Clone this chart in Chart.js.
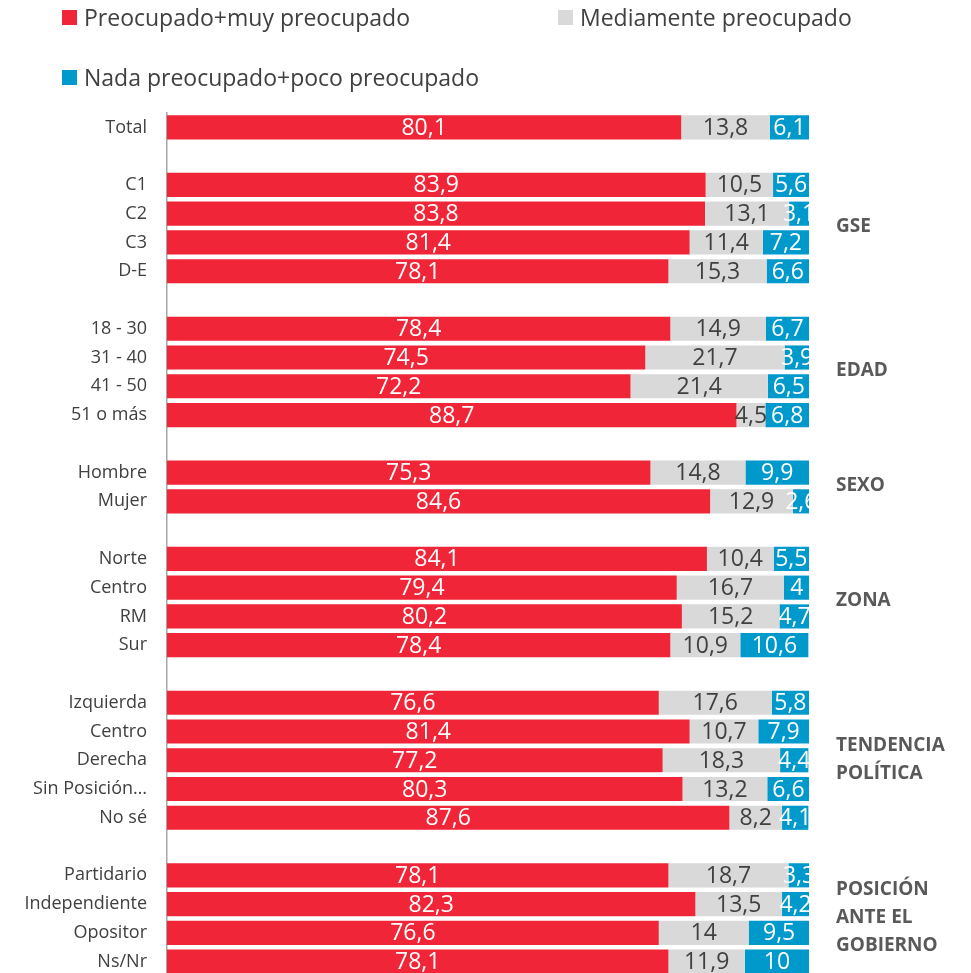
<!DOCTYPE html>
<html lang="es">
<head>
<meta charset="utf-8">
<title>Nivel de preocupación por segmento</title>
<script src="https://cdn.jsdelivr.net/npm/chart.js@4.4.1/dist/chart.umd.min.js"></script>
<style>
    html, body { margin: 0; padding: 0; background: #fff; overflow: hidden; }
    #wrap { position: relative; width: 971px; height: 973px; overflow: hidden; }
    #grafico { display: block; }
    #leyenda {
        position: absolute; left: 62px; top: 1px; width: 900px;
        display: flex; flex-wrap: wrap; row-gap: 28px;
        font-family: "Open Sans", sans-serif; font-size: 23px; color: #404040;
    }
    #leyenda .item { display: flex; align-items: center; height: 32px; }
    #leyenda .item:nth-child(1) { width: 496px; }
    #leyenda .caja { width: 15px; height: 15px; margin-right: 7px; }
</style>
</head>
<body>
<div id="wrap">
    <div id="leyenda"></div>
    <canvas id="grafico" width="971" height="976"></canvas>
</div>
<script>
// Categorías (filas vacías separan cada segmento)
const categorias = [
    'Total', '',
    'C1', 'C2', 'C3', 'D-E', '',
    '18 - 30', '31 - 40', '41 - 50', '51 o más', '',
    'Hombre', 'Mujer', '',
    'Norte', 'Centro', 'RM', 'Sur', '',
    'Izquierda', 'Centro', 'Derecha', 'Sin Posición…', 'No sé', '',
    'Partidario', 'Independiente', 'Opositor', 'Ns/Nr'
];

const preocupado = [
    80.1, null,
    83.9, 83.8, 81.4, 78.1, null,
    78.4, 74.5, 72.2, 88.7, null,
    75.3, 84.6, null,
    84.1, 79.4, 80.2, 78.4, null,
    76.6, 81.4, 77.2, 80.3, 87.6, null,
    78.1, 82.3, 76.6, 78.1
];

const mediamente = [
    13.8, null,
    10.5, 13.1, 11.4, 15.3, null,
    14.9, 21.7, 21.4, 4.5, null,
    14.8, 12.9, null,
    10.4, 16.7, 15.2, 10.9, null,
    17.6, 10.7, 18.3, 13.2, 8.2, null,
    18.7, 13.5, 14, 11.9
];

const nada = [
    6.1, null,
    5.6, 3.1, 7.2, 6.6, null,
    6.7, 3.9, 6.5, 6.8, null,
    9.9, 2.6, null,
    5.5, 4, 4.7, 10.6, null,
    5.8, 7.9, 4.4, 6.6, 4.1, null,
    3.3, 4.2, 9.5, 10
];

// Rótulos de cada bloque: [fila inicial, fila final, líneas]
const grupos = [
    [2, 5, ['GSE']],
    [7, 10, ['EDAD']],
    [12, 13, ['SEXO']],
    [15, 18, ['ZONA']],
    [20, 24, ['TENDENCIA', 'POLÍTICA']],
    [26, 29, ['POSICIÓN', 'ANTE EL', 'GOBIERNO']]
];

const ROJO = '#F02537';
const GRIS = '#D9D9D9';
const AZUL = '#0099CC';

const formatoNum = v => String(v).replace('.', ',');

// Etiquetas de valor centradas dentro de cada tramo
const etiquetasValor = {
    id: 'etiquetasValor',
    afterDatasetsDraw(chart) {
        const ctx = chart.ctx;
        const area = chart.chartArea;
        ctx.save();
        ctx.beginPath();
        ctx.rect(area.left, area.top, area.right - area.left, area.bottom - area.top);
        ctx.clip();
        ctx.font = '23px "Open Sans", sans-serif';
        ctx.textAlign = 'center';
        ctx.textBaseline = 'middle';
        chart.data.datasets.forEach((ds, i) => {
            const meta = chart.getDatasetMeta(i);
            ctx.fillStyle = ds.colorTexto;
            meta.data.forEach((barra, j) => {
                const v = ds.data[j];
                if (v === null || v === undefined) return;
                const c = barra.getCenterPoint();
                ctx.fillText(formatoNum(v), c.x, c.y + 1);
            });
        });
        ctx.restore();
    }
};

// Nombres de los bloques a la derecha del gráfico
const rotulosGrupo = {
    id: 'rotulosGrupo',
    afterDraw(chart) {
        const ctx = chart.ctx;
        const y = chart.scales.y;
        const x0 = chart.chartArea.right + 27;
        ctx.save();
        ctx.font = 'bold 19px "Open Sans", sans-serif';
        ctx.fillStyle = '#595959';
        ctx.textAlign = 'left';
        ctx.textBaseline = 'middle';
        grupos.forEach(([ini, fin, lineas]) => {
            const centro = (y.getPixelForValue(ini) + y.getPixelForValue(fin)) / 2;
            const alto = 28;
            lineas.forEach((txt, k) => {
                ctx.fillText(txt, x0, centro + (k - (lineas.length - 1) / 2) * alto - 1);
            });
        });
        ctx.restore();
    }
};

const grafico = new Chart(document.getElementById('grafico'), {
    type: 'bar',
    data: {
        labels: categorias,
        datasets: [
            { label: 'Preocupado+muy preocupado', data: preocupado, backgroundColor: ROJO, colorTexto: '#FFFFFF' },
            { label: 'Mediamente preocupado', data: mediamente, backgroundColor: GRIS, colorTexto: '#404040' },
            { label: 'Nada preocupado+poco preocupado', data: nada, backgroundColor: AZUL, colorTexto: '#FFFFFF' }
        ]
    },
    options: {
        indexAxis: 'y',
        responsive: false,
        animation: false,
        layout: { padding: { top: 113, right: 162, bottom: 0, left: 0 } },
        datasets: { bar: { barPercentage: 1, categoryPercentage: 0.84, borderWidth: 0 } },
        plugins: {
            legend: { display: false },
            tooltip: { enabled: false }
        },
        scales: {
            x: {
                stacked: true, min: 0, max: 100, display: false
            },
            y: {
                stacked: true,
                grid: { display: false, drawTicks: false },
                border: { display: true, color: '#A6A6A6', width: 1.5 },
                ticks: {
                    autoSkip: false,
                    padding: 20,
                    color: '#404040',
                    font: { family: '"Open Sans", sans-serif', size: 18 }
                },
                afterFit(scale) {
                    // ancho fijo del eje y sin margen extra arriba/abajo
                    scale.width = 167;
                    scale.paddingTop = 0;
                    scale.paddingBottom = 0;
                }
            }
        }
    },
    plugins: [etiquetasValor, rotulosGrupo]
});

// Leyenda en HTML a partir de los datasets
const leyenda = document.getElementById('leyenda');
grafico.data.datasets.forEach(ds => {
    const item = document.createElement('div');
    item.className = 'item';
    const caja = document.createElement('span');
    caja.className = 'caja';
    caja.style.background = ds.backgroundColor;
    const txt = document.createElement('span');
    txt.textContent = ds.label;
    item.appendChild(caja);
    item.appendChild(txt);
    leyenda.appendChild(item);
});
</script>
</body>
</html>
